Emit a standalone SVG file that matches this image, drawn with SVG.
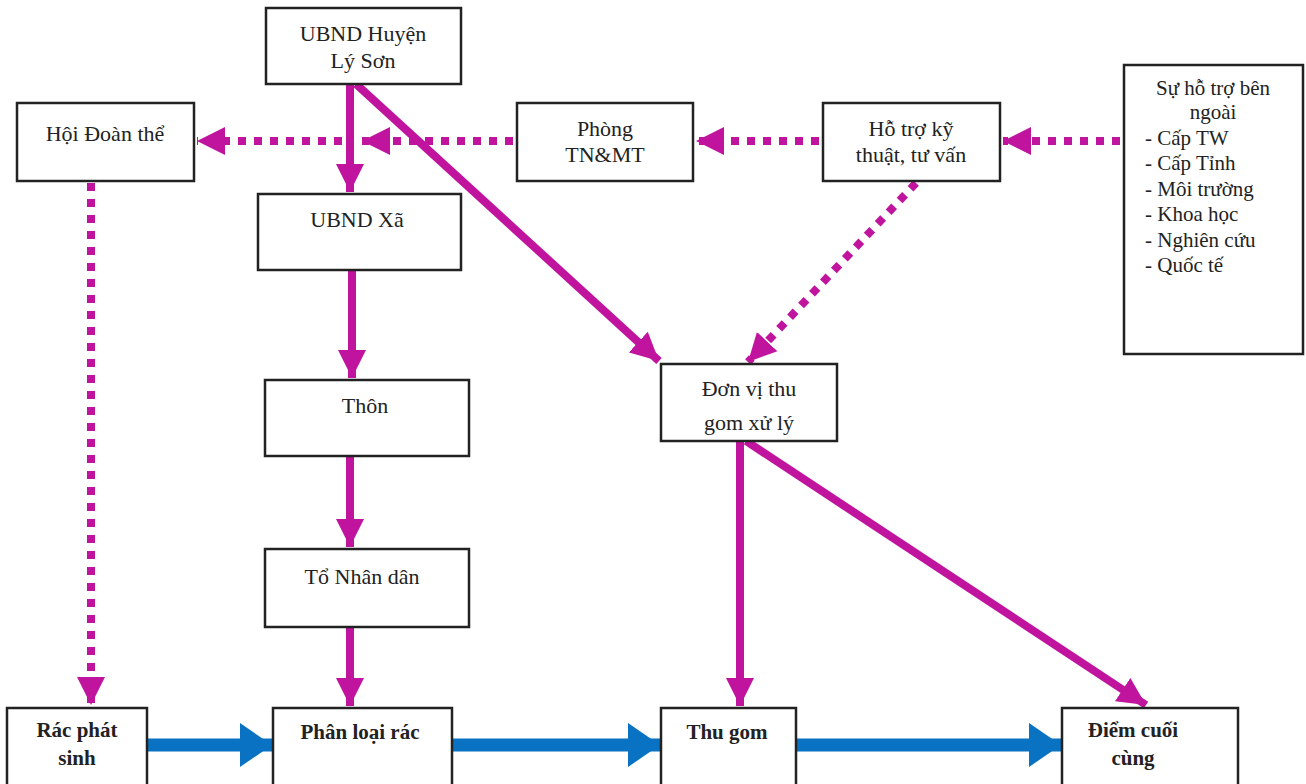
<svg xmlns="http://www.w3.org/2000/svg" width="1306" height="784" viewBox="0 0 1306 784">
<defs>
<style>
.box{fill:#fff;stroke:#222;stroke-width:2.5}
text{font-family:'Liberation Serif','DejaVu Serif',serif;font-size:22px;fill:#222;text-anchor:middle}
.b{font-weight:bold;font-size:21px}
.l{text-anchor:start;font-size:21px}
.s{fill:none;stroke:#C0149E;stroke-width:8}
.d{fill:none;stroke:#C0149E;stroke-width:8;stroke-dasharray:8 8}
.bl{fill:none;stroke:#0A72C2;stroke-width:13}
</style>
<marker id="ma" markerUnits="userSpaceOnUse" markerWidth="30" markerHeight="30" refX="28" refY="15" orient="auto" viewBox="0 0 30 30">
<path d="M0,1 L28,15 L0,29 Z" fill="#C0149E"/>
</marker>
<marker id="mb" markerUnits="userSpaceOnUse" markerWidth="34" markerHeight="44" refX="32" refY="22" orient="auto" viewBox="0 0 34 44">
<path d="M0,0 L32,22 L0,44 Z" fill="#0A72C2"/>
</marker>
</defs>
<rect width="1306" height="784" fill="#fff"/>
<g id="connectors">
<line class="s" x1="350" y1="84" x2="350" y2="192" marker-end="url(#ma)"/>
<line class="s" x1="356" y1="84" x2="659" y2="361" marker-end="url(#ma)"/>
<line class="d" x1="513" y1="141" x2="362" y2="141" marker-end="url(#ma)"/>
<line class="d" x1="342" y1="141" x2="197" y2="141" marker-end="url(#ma)"/>
<line class="d" x1="819" y1="141" x2="696" y2="141" marker-end="url(#ma)"/>
<line class="d" x1="1120" y1="141" x2="1003" y2="141" marker-end="url(#ma)"/>
<line class="d" x1="916" y1="183" x2="748" y2="362" marker-end="url(#ma)"/>
<line class="d" x1="91" y1="183" x2="91" y2="705" marker-end="url(#ma)"/>
<line class="s" x1="352" y1="270" x2="352" y2="378" marker-end="url(#ma)"/>
<line class="s" x1="350" y1="456" x2="350" y2="547" marker-end="url(#ma)"/>
<line class="s" x1="350" y1="627" x2="350" y2="706" marker-end="url(#ma)"/>
<line class="s" x1="740" y1="441" x2="740" y2="706" marker-end="url(#ma)"/>
<line class="s" x1="746" y1="441" x2="1146" y2="705" marker-end="url(#ma)"/>
<line class="bl" x1="147" y1="745" x2="272" y2="745" marker-end="url(#mb)"/>
<line class="bl" x1="452" y1="745" x2="660" y2="745" marker-end="url(#mb)"/>
<line class="bl" x1="796" y1="745" x2="1061" y2="745" marker-end="url(#mb)"/>
</g>
<g id="n-ubnd-huyen"><rect class="box" x="266" y="8" width="195" height="76"/><text x="363" y="41">UBND Huyện</text><text x="363" y="68">Lý Sơn</text></g>
<g id="n-hoi-doan-the"><rect class="box" x="17" y="103" width="177" height="78"/><text x="105" y="141">Hội Đoàn thể</text></g>
<g id="n-phong"><rect class="box" x="517" y="103" width="176" height="78"/><text x="605" y="136">Phòng</text><text x="605" y="162">TN&amp;MT</text></g>
<g id="n-ho-tro"><rect class="box" x="823" y="103" width="177" height="78"/><text x="911" y="136">Hỗ trợ kỹ</text><text x="911" y="162">thuật, tư vấn</text></g>
<g id="n-su-ho-tro"><rect class="box" x="1124" y="65" width="179" height="289"/>
<text x="1213" y="95" style="font-size:21px">Sự hỗ trợ bên</text><text x="1213" y="119" style="font-size:21px">ngoài</text>
<text class="l" x="1145" y="145">- Cấp TW</text><text class="l" x="1145" y="170">- Cấp Tỉnh</text><text class="l" x="1145" y="196">- Môi trường</text><text class="l" x="1145" y="221">- Khoa học</text><text class="l" x="1145" y="247">- Nghiên cứu</text><text class="l" x="1145" y="272">- Quốc tế</text></g>
<g id="n-ubnd-xa"><rect class="box" x="258" y="194" width="203" height="76"/><text x="357" y="227">UBND Xã</text></g>
<g id="n-thon"><rect class="box" x="265" y="380" width="204" height="76"/><text x="365" y="413">Thôn</text></g>
<g id="n-to-nhan-dan"><rect class="box" x="265" y="549" width="204" height="78"/><text x="362" y="584">Tổ Nhân dân</text></g>
<g id="n-don-vi"><rect class="box" x="661" y="364" width="176" height="77"/><text x="749" y="396">Đơn vị thu</text><text x="749" y="430">gom xử lý</text></g>
<g id="n-rac"><rect class="box" x="7" y="708" width="140" height="80"/><text class="b" x="77" y="737">Rác phát</text><text class="b" x="77" y="765">sinh</text></g>
<g id="n-phan-loai"><rect class="box" x="273" y="708" width="179" height="80"/><text class="b" x="360" y="739">Phân loại rác</text></g>
<g id="n-thu-gom"><rect class="box" x="661" y="708" width="135" height="80"/><text class="b" x="727" y="739">Thu gom</text></g>
<g id="n-diem-cuoi"><rect class="box" x="1062" y="708" width="176" height="80"/><text class="b" x="1133" y="737">Điểm cuối</text><text class="b" x="1133" y="765">cùng</text></g>
</svg>
